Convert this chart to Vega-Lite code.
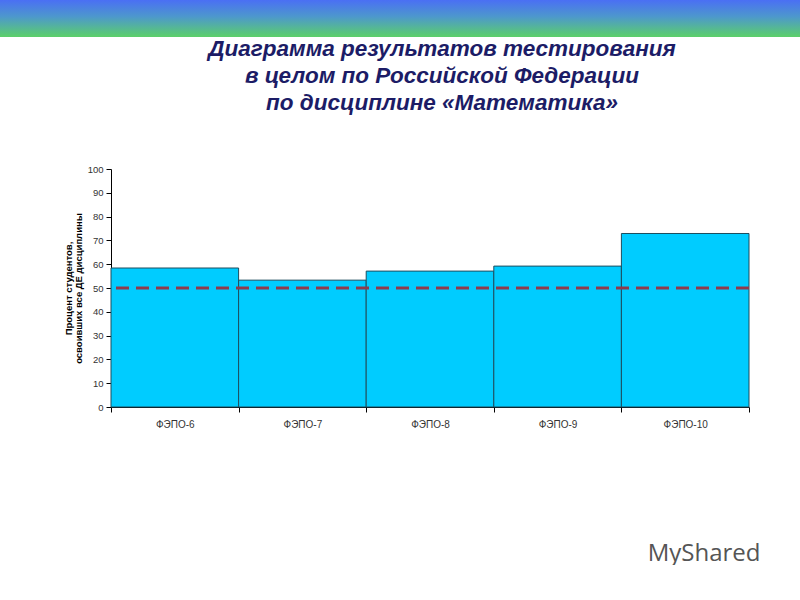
{
  "$schema": "https://vega.github.io/schema/vega-lite/v6.json",
  "padding": 0,
  "background": "white",
  "spacing": 0,
  "config": {
    "font": "Liberation Sans",
    "axisX": {
      "labelAngle": 0,
      "labelFontSize": 10,
      "labelColor": "#333333",
      "labelPadding": 7,
      "tickBand": "extent",
      "tickSize": 5,
      "tickColor": "#000000",
      "domainColor": "#000000"
    }
  },
  "vconcat": [
    {
      "width": 800,
      "height": 37,
      "data": {"values": []},
      "mark": "point",
      "view": {
        "stroke": null,
        "fill": {
          "gradient": "linear",
          "x1": 0, "y1": 0, "x2": 0, "y2": 1,
          "stops": [
            {"offset": 0, "color": "#4a6ff4"},
            {"offset": 0.45, "color": "#4d98cc"},
            {"offset": 1, "color": "#5cd06a"}
          ]
        }
      }
    },
    {
      "spacing": 0,
      "hconcat": [
        {
          "width": 63,
          "height": 238,
          "data": {"values": []},
          "mark": "point",
          "view": {"stroke": null}
        },
        {
          "width": 638,
          "height": 238,
          "view": {"stroke": null},
          "title": {
            "text": ["Диаграмма результатов тестирования", "в целом по Российской Федерации", "по дисциплине «Математика»"],
            "font": "Liberation Sans",
            "fontStyle": "italic",
            "fontWeight": "bold",
            "fontSize": 22.5,
            "lineHeight": 27,
            "color": "#1c1c66",
            "anchor": "middle",
            "dx": 12,
            "dy": 7,
            "offset": 57
          },
          "resolve": {"axis": {"y": "independent"}},
          "layer": [
            {
              "data": {
                "values": [
                  {"test": "ФЭПО-6", "percent": 58.4},
                  {"test": "ФЭПО-7", "percent": 53.3},
                  {"test": "ФЭПО-8", "percent": 57.1},
                  {"test": "ФЭПО-9", "percent": 59.2},
                  {"test": "ФЭПО-10", "percent": 72.9}
                ]
              },
              "mark": {"type": "bar", "fill": "#00ccff", "stroke": "#1d4d5e", "strokeWidth": 1},
              "encoding": {
                "x": {
                  "field": "test",
                  "type": "nominal",
                  "sort": null,
                  "scale": {"paddingInner": 0, "paddingOuter": 0},
                  "axis": {
                    "title": "MyShared",
                    "titleFont": "Open Sans",
                    "titleFontWeight": "normal",
                    "titleFontSize": 24,
                    "titleColor": "#555555",
                    "titleAnchor": "end",
                    "titleAlign": "right",
                    "titleX": 649,
                    "titlePadding": 112
                  }
                },
                "y": {
                  "field": "percent",
                  "type": "quantitative",
                  "scale": {"domain": [0, 100]},
                  "axis": {
                    "values": [0, 10, 20, 30, 40, 50, 60, 70, 80, 90, 100],
                    "tickCount": 12,
                    "labelOverlap": false,
                    "grid": false,
                    "labelFontSize": 9.5,
                    "labelColor": "#333333",
                    "labelPadding": 3,
                    "tickSize": 5,
                    "tickColor": "#000000",
                    "domainColor": "#000000",
                    "title": ["Процент студентов,", "освоивших все ДЕ дисциплины"],
                    "titleFontSize": 9.5,
                    "titleFontWeight": "bold",
                    "titleColor": "#000000",
                    "titleLineHeight": 10,
                    "titlePadding": 4
                  }
                }
              }
            },
            {
              "data": {"values": [{"threshold": 50}]},
              "mark": {"type": "rule", "color": "#8f3a4c", "strokeWidth": 3, "strokeDash": [13, 7]},
              "encoding": {
                "y": {"field": "threshold", "type": "quantitative", "axis": null}
              }
            }
          ]
        }
      ]
    }
  ]
}
